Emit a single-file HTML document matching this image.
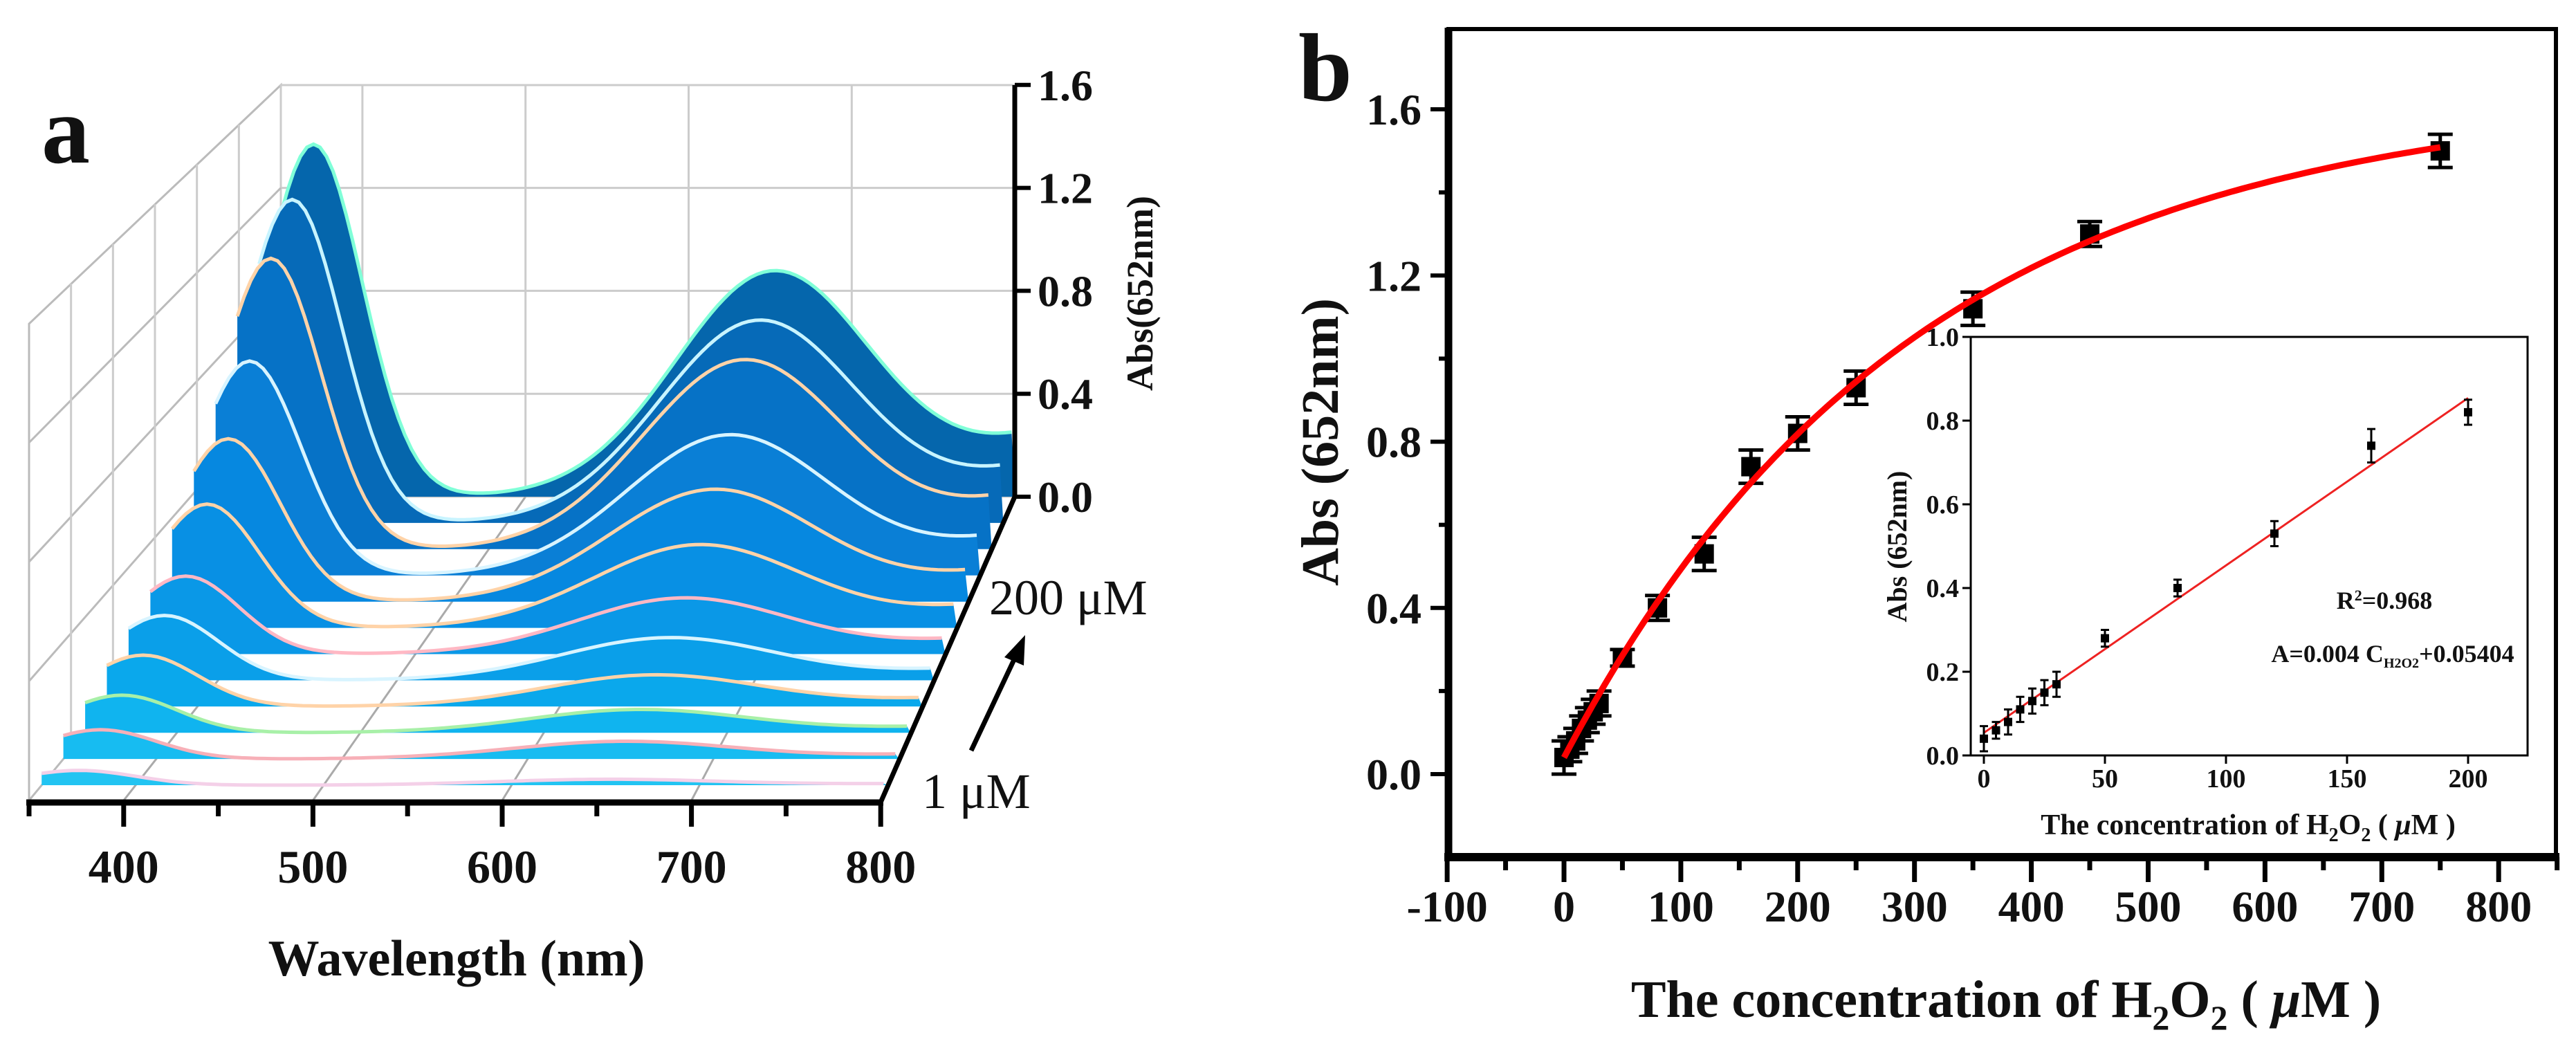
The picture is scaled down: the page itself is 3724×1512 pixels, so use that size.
<!DOCTYPE html>
<html><head><meta charset="utf-8">
<style>
html,body{margin:0;padding:0;background:#fff;}
svg{display:block;}
text{font-family:"Liberation Serif",serif;font-weight:bold;fill:#111;}
</style></head>
<body>
<svg id="fig" width="3724" height="1512" viewBox="0 0 3724 1512" xmlns="http://www.w3.org/2000/svg">
<rect x="0" y="0" width="3724" height="1512" fill="#fff"/>
<g id="pa"></g>
<g id="pb"></g>
</svg>
<script>
// ---------- Panel a data ----------
const sliceConc = ["1","5","10","15","20","25","30","50","80","120","160","200"];
const peak370 = [0.05,0.10,0.13,0.18,0.23,0.28,0.45,0.60,0.80,1.10,1.24,1.37];
const peak652 = [0.02,0.06,0.08,0.11,0.15,0.20,0.30,0.41,0.52,0.71,0.77,0.87];
const waveTicks = [400,500,600,700,800];
const absTicks = ["0.0","0.4","0.8","1.2","1.6"];
const absTickVals = [0,0.4,0.8,1.2,1.6];
// ---------- Panel b data ----------
const concX = [0,5,10,15,20,25,30,50,80,120,160,200,250,350,450,750];
const absY = [0.04,0.06,0.08,0.11,0.13,0.15,0.17,0.28,0.40,0.53,0.74,0.82,0.93,1.12,1.30,1.50];
const errY = [0.04,0.03,0.03,0.03,0.03,0.03,0.03,0.02,0.03,0.04,0.04,0.04,0.04,0.04,0.03,0.04];
const fitParams = [0.04,1.6,300]; // c, A, tau
const bXTicks = [-100,0,100,200,300,400,500,600,700,800];
const bYTicks = [0,0.4,0.8,1.2,1.6];
const bYLabels = ["0.0","0.4","0.8","1.2","1.6"];
// inset
const inX = [0,5,10,15,20,25,30,50,80,120,160,200];
const inY = [0.04,0.06,0.08,0.11,0.13,0.15,0.17,0.28,0.40,0.53,0.74,0.82];
const inErr = [0.03,0.02,0.03,0.03,0.03,0.03,0.03,0.02,0.02,0.03,0.04,0.03];
const linFit = [0.004,0.05404];
const inXTicks = [0,50,100,150,200];
const inYTicks = [0,0.2,0.4,0.6,0.8,1.0];
const inYLabels = ["0.0","0.2","0.4","0.6","0.8","1.0"];

const NS="http://www.w3.org/2000/svg";
function mk(parent,tag,attrs,txt){const e=document.createElementNS(NS,tag);for(const k in attrs)e.setAttribute(k,attrs[k]);if(txt!==undefined)e.textContent=txt;parent.appendChild(e);return e;}

// ================= PANEL A =================
const pa=document.getElementById('pa');
function fx(l){return 42+(l-350)*2.736;}
function bx(l){return 406+(l-350)*2.358;}
function px(l,t){return fx(l)*(1-t)+bx(l)*t;}
function baseY(t){return 1157-439*t;}
function sc(t){return 431*(1-t)+372*t;}
function py(v,t){return baseY(t)-v*sc(t);}
function g(x,m,s){return Math.exp(-(x-m)*(x-m)/(2*s*s));}
function spec(l,i){return peak370[i]*g(l,370,30)+peak652[i]*(g(l,652,60)+0.45*g(l,900,90));}

let e=mk(pa,'polygon',{points:`42,1157 42,468 406,123 406,718`,fill:'none',stroke:'#bbb','stroke-width':3});

e=mk(pa,'rect',{x:406,y:123,width:1061,height:595,fill:'none',stroke:'#ccc','stroke-width':3});

[0.4,0.8,1.2].forEach(v=>{
  e=mk(pa,'line',{x1:406,x2:1467,y1:py(v,1),y2:py(v,1),stroke:'#ccc','stroke-width':3});
  
  e=mk(pa,'line',{x1:42,y1:py(v,0),x2:406,y2:py(v,1),stroke:'#bbb','stroke-width':3});
  
});
[400,500,600,700].forEach(l=>{
  e=mk(pa,'line',{x1:bx(l),x2:bx(l),y1:123,y2:718,stroke:'#ccc','stroke-width':3});
  
  e=mk(pa,'line',{x1:fx(l),y1:1157,x2:bx(l),y2:718,stroke:'#aaa','stroke-width':3});
  
});
for(let k=1;k<=5;k++){const t=k/6;
  e=mk(pa,'line',{x1:px(350,t),x2:px(350,t),y1:baseY(t),y2:baseY(t)-1.6*sc(t),stroke:'#ccc','stroke-width':3});
  }

const fills=['#22c4f2','#17bcf1','#10b4ef','#0aa8ec','#0a9fe9','#0a98e7','#0890e4','#0688e0','#0a7fd6','#0672c6','#066ab8','#0566ac'];
const lines=['#f4d0e8','#f7b0b8','#a8f0a8','#ffd3a8','#d8f4ff','#ffb8c4','#ffd3a8','#ffd3a8','#d8f4ff','#ffd3a8','#c8f4ff','#80ffd8'];
for(let i=sliceConc.length-1;i>=0;i--){
  const t=0.05+i*0.95/11;
  let pts=[];
  for(let l=350;l<=800;l+=4){const X=px(l,t),Y=py(spec(l,i),t);pts.push(X.toFixed(1)+','+Y.toFixed(1));}
  const poly=`${px(350,t).toFixed(1)},${baseY(t).toFixed(1)} `+pts.join(' ')+` ${px(800,t).toFixed(1)},${baseY(t).toFixed(1)}`;
  e=mk(pa,'polygon',{points:poly,fill:fills[i]});
  
  e=mk(pa,'polyline',{points:pts.join(' '),fill:'none',stroke:lines[i],'stroke-width':5});
  
}
e=mk(pa,'line',{x1:38,x2:1277,y1:1160,y2:1160,stroke:'#000','stroke-width':9});

for(let l=350;l<=800;l+=50){const maj=l%100===0;
  e=mk(pa,'line',{x1:fx(l),x2:fx(l),y1:1160,y2:maj?1195:1180,stroke:'#000','stroke-width':7});
  }
waveTicks.forEach(l=>{e=mk(pa,'text',{x:fx(l),y:1276,'font-size':68,'text-anchor':'middle'},String(l));
  });
e=mk(pa,'text',{x:660,y:1410,'font-size':74,'text-anchor':'middle'},'Wavelength (nm)');

e=mk(pa,'line',{x1:1273,y1:1160,x2:1467,y2:718,stroke:'#000','stroke-width':7});

e=mk(pa,'line',{x1:1467,x2:1467,y1:123,y2:718,stroke:'#000','stroke-width':7});

absTickVals.forEach((v,k)=>{
  e=mk(pa,'line',{x1:1467,x2:1490,y1:py(v,1),y2:py(v,1),stroke:'#000','stroke-width':6});
  
  e=mk(pa,'text',{x:1500,y:py(v,1)+22,'font-size':64},absTicks[k]);
  });
e=mk(pa,'text',{x:0,y:0,'font-size':54,'text-anchor':'middle',transform:'translate(1666,424) rotate(-90)'},'Abs(652nm)');

e=mk(pa,'text',{x:1430,y:888,'font-size':72,style:'font-weight:normal'},'200 μM');

e=mk(pa,'text',{x:1333,y:1168,'font-size':72,style:'font-weight:normal'},'1 μM');

e=mk(pa,'line',{x1:1404,y1:1085,x2:1470,y2:945,stroke:'#000','stroke-width':7});

e=mk(pa,'polygon',{points:'1482,918 1452,950 1480,962',fill:'#000'});

e=mk(pa,'text',{x:60,y:235,'font-size':140},'a');


// ================= PANEL B =================
const pb=document.getElementById('pb');
function X(v){return 2261+v*1.689;}
function Y(v){return 1119-v*600.6;}
e=mk(pb,'rect',{x:2094,y:42,width:1601,height:1197,fill:'none',stroke:'#000','stroke-width':6});

e=mk(pb,'line',{x1:2094,x2:2094,y1:40,y2:1245,stroke:'#000','stroke-width':11});

e=mk(pb,'line',{x1:2088,x2:3700,y1:1239,y2:1239,stroke:'#000','stroke-width':12});

for(let v=0;v<=1.61;v+=0.2){const maj=Math.round(v*10)%4===0;
  e=mk(pb,'line',{x1:maj?2068:2080,x2:2094,y1:Y(v),y2:Y(v),stroke:'#000','stroke-width':6});
  }
bYTicks.forEach((v,k)=>{e=mk(pb,'text',{x:2055,y:Y(v)+22,'font-size':64,'text-anchor':'end'},bYLabels[k]);
  });
for(let v=-100;v<=850;v+=50){const maj=v%100===0;
  e=mk(pb,'line',{x1:X(v),x2:X(v),y1:1239,y2:maj?1275:1258,stroke:'#000','stroke-width':7});
  }
bXTicks.forEach(v=>{e=mk(pb,'text',{x:X(v),y:1332,'font-size':64,'text-anchor':'middle'},String(v));
  });
e=mk(pb,'text',{x:0,y:0,'font-size':76,'text-anchor':'middle',transform:'translate(1934,639) rotate(-90)'},'Abs (652nm)');

e=mk(pb,'text',{x:2900,y:1470,'font-size':76,'text-anchor':'middle'});

e.innerHTML='The concentration of H<tspan baseline-shift="-18" font-size="50">2</tspan>O<tspan baseline-shift="-18" font-size="50">2</tspan> ( <tspan font-style="italic">μ</tspan>M )';
e=mk(pb,'text',{x:1877,y:145,'font-size':140},'b');


concX.forEach((c,i)=>{
  const x=X(c),y=Y(absY[i]),ey=errY[i]*600.6;
  e=mk(pb,'path',{d:`M${x},${y-ey}V${y+ey}M${x-18},${y-ey}H${x+18}M${x-18},${y+ey}H${x+18}`,stroke:'#000','stroke-width':5,fill:'none'});
  
  e=mk(pb,'rect',{x:x-14,y:y-14,width:28,height:28,fill:'#000'});
  
});
let cp=[];for(let c=0;c<=750;c+=5){cp.push(X(c).toFixed(1)+','+Y(fitParams[0]+fitParams[1]*(1-Math.exp(-c/fitParams[2]))).toFixed(1));}
e=mk(pb,'polyline',{points:cp.join(' '),fill:'none',stroke:'#f00','stroke-width':9});


const ins=mk(pb,'g',{});

function IX(v){return 2868+v*3.5;}
function IY(v){return 1092-v*605;}
e=mk(ins,'rect',{x:2849,y:487,width:805,height:605,fill:'#fff',stroke:'#000','stroke-width':3});

inYTicks.forEach((v,k)=>{
  e=mk(ins,'line',{x1:2837,x2:2849,y1:IY(v),y2:IY(v),stroke:'#000','stroke-width':3});
  
  e=mk(ins,'text',{x:2832,y:IY(v)+13,'font-size':38,'text-anchor':'end'},inYLabels[k]);
  });
inXTicks.forEach(v=>{
  e=mk(ins,'line',{x1:IX(v),x2:IX(v),y1:1092,y2:1104,stroke:'#000','stroke-width':3});
  
  e=mk(ins,'text',{x:IX(v),y:1138,'font-size':38,'text-anchor':'middle'},String(v));
  });
e=mk(ins,'text',{x:0,y:0,'font-size':40,'text-anchor':'middle',transform:'translate(2756,790) rotate(-90)'},'Abs (652nm)');

e=mk(ins,'text',{x:3250,y:1206,'font-size':42,'text-anchor':'middle'});

e.innerHTML='The concentration of H<tspan baseline-shift="-10" font-size="28">2</tspan>O<tspan baseline-shift="-10" font-size="28">2</tspan> ( <tspan font-style="italic">μ</tspan>M )';
e=mk(ins,'line',{x1:IX(0),y1:IY(linFit[1]),x2:IX(200),y2:IY(linFit[0]*200+linFit[1]),stroke:'#e22','stroke-width':3});

inX.forEach((c,i)=>{
  const x=IX(c),y=IY(inY[i]),ey=inErr[i]*605;
  e=mk(ins,'path',{d:`M${x},${y-ey}V${y+ey}M${x-6},${y-ey}H${x+6}M${x-6},${y+ey}H${x+6}`,stroke:'#000','stroke-width':3,fill:'none'});
  
  e=mk(ins,'rect',{x:x-6,y:y-6,width:12,height:12,fill:'#000'});
  
});
e=mk(ins,'text',{x:3447,y:880,'font-size':36,'text-anchor':'middle'});

e.innerHTML='R<tspan baseline-shift="super" font-size="22">2</tspan>=0.968';
e=mk(ins,'text',{x:3459,y:957,'font-size':36,'text-anchor':'middle'});

e.innerHTML='A=0.004 C<tspan baseline-shift="-8" font-size="20">H2O2</tspan>+0.05404';
</script>
</body></html>
